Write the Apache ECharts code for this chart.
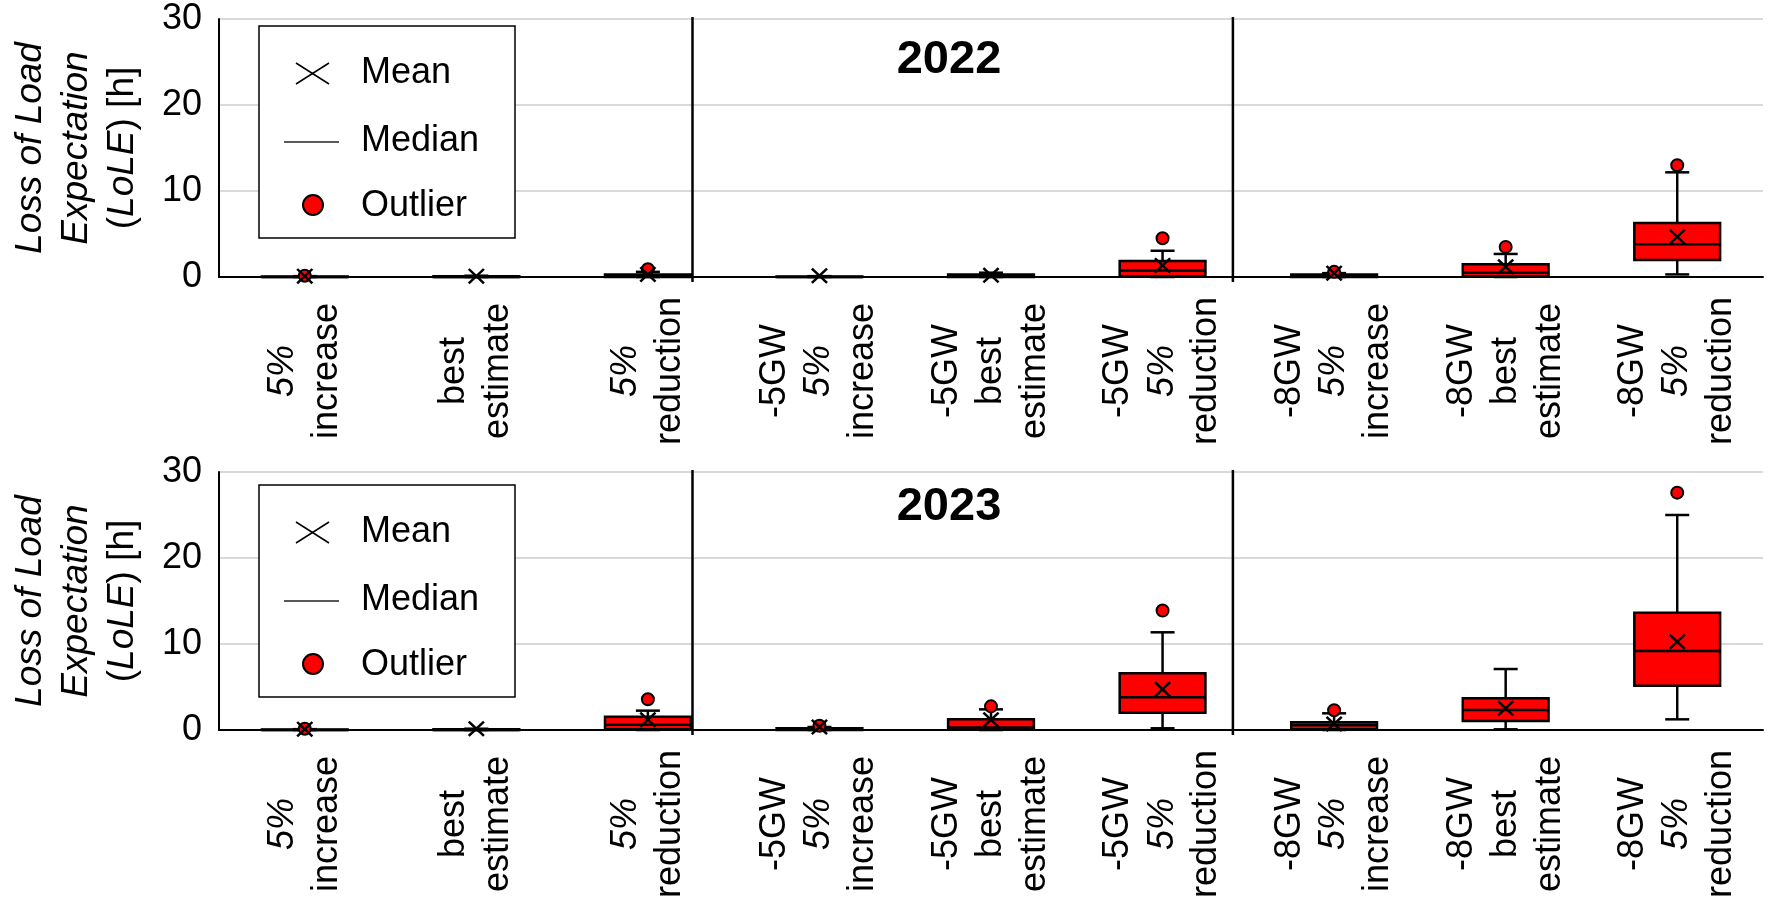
<!DOCTYPE html>
<html>
<head>
<meta charset="utf-8">
<title>Loss of Load Expectation 2022 / 2023</title>
<script src="https://cdn.jsdelivr.net/npm/echarts@6/dist/echarts.min.js"></script>
<style>
  html, body { margin: 0; padding: 0; background: #ffffff; }
  #chart { width: 1771px; height: 907px; }
</style>
</head>
<body>
<div id="chart"></div>
<script>
// Scenario names (each word goes on its own label line)
const categories = [
  '5% increase', 'best estimate', '5% reduction',
  '-5GW 5% increase', '-5GW best estimate', '-5GW 5% reduction',
  '-8GW 5% increase', '-8GW best estimate', '-8GW 5% reduction'
];
const yTicks = [0, 10, 20, 30];
const years = ['2022', '2023'];

// Box statistics per scenario: [min, Q1, median, Q3, max] in hours
const box2022 = [
  [0, 0, 0, 0.05, 0.1],
  [0, 0, 0, 0.1, 0.15],
  [0, 0, 0.1, 0.3, 0.6],
  [0, 0, 0, 0.05, 0.1],
  [0, 0, 0.1, 0.3, 0.5],
  [0, 0.1, 0.75, 1.85, 3.05],
  [0, 0, 0.1, 0.3, 0.45],
  [0, 0.1, 0.5, 1.48, 2.68],
  [0.3, 1.98, 3.81, 6.27, 12.17]
];
const mean2022 = [0.1, 0.1, 0.3, 0.15, 0.2, 1.35, 0.45, 1.2, 4.67];
const outlier2022 = [0.15, null, 0.9, null, null, 4.5, 0.6, 3.5, 13.0];

const box2023 = [
  [0, 0, 0, 0.05, 0.1],
  [0, 0, 0, 0.1, 0.15],
  [0, 0.1, 0.6, 1.55, 2.25],
  [0, 0, 0.05, 0.2, 0.35],
  [0, 0.05, 0.3, 1.24, 2.4],
  [0.2, 2.01, 3.8, 6.59, 11.36],
  [0, 0.1, 0.55, 0.89, 1.94],
  [0.08, 1.05, 2.33, 3.68, 7.09],
  [1.24, 5.15, 9.19, 13.64, 25.0]
];
const mean2023 = [0.1, 0.15, 1.2, 0.35, 1.2, 4.73, 0.7, 2.52, 10.27];
const outlier2023 = [0.15, null, 3.57, 0.5, 2.75, 13.9, 2.29, null, 27.6];

// Separator lines between scenario groups, in category-band units
const separators = [2.76, 5.91];

const FONT = "'Liberation Sans', Arial, Helvetica, sans-serif";
const RED = '#ff0000';

const chart = echarts.init(document.getElementById('chart'), null, { renderer: 'canvas' });

const grids = [
  { left: 218, right: 8, top: 19, height: 258 },
  { left: 218, right: 8, top: 472, height: 258 }
];

function labelFormatter(value) {
  return value.split(' ').map(function (w) {
    return /%$/.test(w) ? '{i|' + w + '}' : '{n|' + w + '}';
  }).join('\n');
}

const labelRich = {
  n: { fontFamily: FONT, fontSize: 36, lineHeight: 44, color: '#000', align: 'center' },
  i: { fontFamily: FONT, fontSize: 36, lineHeight: 44, color: '#000', fontStyle: 'italic', align: 'center' }
};

const xAxes = [];
const yAxes = [];
[0, 1].forEach(function (g) {
  xAxes.push({
    type: 'category', gridIndex: g, data: categories, boundaryGap: true,
    axisLine: { show: true, lineStyle: { color: '#000', width: 2 } },
    axisTick: { show: false },
    splitLine: { show: false },
    axisLabel: {
      interval: 0, rotate: 90, margin: 94,
      align: 'center', verticalAlign: 'middle',
      formatter: labelFormatter, rich: labelRich
    }
  });
});
[0, 1].forEach(function (g) {
  xAxes.push({ type: 'value', gridIndex: g, min: 0, max: 9, show: false });
});
[0, 1].forEach(function (g) {
  yAxes.push({
    type: 'value', gridIndex: g, min: yTicks[0], max: yTicks[yTicks.length - 1], interval: 10,
    axisLine: { show: true, lineStyle: { color: '#000', width: 2 } },
    axisTick: { show: false },
    splitLine: { show: true, lineStyle: { color: '#d9d9d9', width: 2 } },
    axisLabel: { fontFamily: FONT, fontSize: 36, color: '#000', margin: 17 },
    name: '{i|Loss of Load}\n{i|Expectation}\n{n|(}{i|LoLE}{n|) [h]}',
    nameLocation: 'middle', nameRotate: 90, nameGap: 73,
    nameTextStyle: {
      fontFamily: FONT, fontSize: 37, lineHeight: 46, color: '#000', align: 'center',
      rich: {
        i: { fontFamily: FONT, fontSize: 37, lineHeight: 46, color: '#000', fontStyle: 'italic' },
        n: { fontFamily: FONT, fontSize: 37, lineHeight: 46, color: '#000' }
      }
    }
  });
});

function renderBox(params, api) {
  const i = api.value(0);
  const pMin = api.coord([i, api.value(1)]);
  const pQ1 = api.coord([i, api.value(2)]);
  const pMed = api.coord([i, api.value(3)]);
  const pQ3 = api.coord([i, api.value(4)]);
  const pMax = api.coord([i, api.value(5)]);
  const band = api.size([1, 0])[0];
  const hw = band * 0.25;
  const cw = band * 0.07;
  const x = pMed[0];
  const stroke = { stroke: '#000', lineWidth: 2.5 };
  return {
    type: 'group',
    children: [
      { type: 'line', shape: { x1: x, y1: pQ3[1], x2: x, y2: pMax[1] }, style: stroke },
      { type: 'line', shape: { x1: x, y1: pQ1[1], x2: x, y2: pMin[1] }, style: stroke },
      { type: 'line', shape: { x1: x - cw, y1: pMax[1], x2: x + cw, y2: pMax[1] }, style: stroke },
      { type: 'line', shape: { x1: x - cw, y1: pMin[1], x2: x + cw, y2: pMin[1] }, style: stroke },
      { type: 'rect', shape: { x: x - hw, y: pQ3[1], width: hw * 2, height: Math.max(pQ1[1] - pQ3[1], 0.5) },
        style: { fill: RED, stroke: '#000', lineWidth: 2.5 } },
      { type: 'line', shape: { x1: x - hw, y1: pMed[1], x2: x + hw, y2: pMed[1] }, style: stroke }
    ]
  };
}

function renderSeparator(params, api) {
  const v = api.value(0);
  const top = api.coord([v, 30]);
  const bot = api.coord([v, 0]);
  return {
    type: 'line',
    shape: { x1: top[0], y1: top[1] - 2, x2: bot[0], y2: bot[1] + 5 },
    style: { stroke: '#000', lineWidth: 2.5 }
  };
}

const X_SYMBOL = 'path://M0,1.7L1.7,0L8,6.3L14.3,0L16,1.7L9.7,8L16,14.3L14.3,16L8,9.7L1.7,16L0,14.3L6.3,8Z';

const series = [];
[[box2022, mean2022, outlier2022], [box2023, mean2023, outlier2023]].forEach(function (set, g) {
  const boxes = set[0], means = set[1], outs = set[2];
  series.push({
    type: 'custom', name: 'Box ' + years[g], xAxisIndex: g, yAxisIndex: g,
    renderItem: renderBox,
    encode: { x: 0, y: [1, 2, 3, 4, 5] },
    data: boxes.map(function (b, i) { return [i].concat(b); }),
    z: 2
  });
  series.push({
    type: 'scatter', name: 'Outlier', xAxisIndex: g, yAxisIndex: g,
    symbol: 'circle', symbolSize: 12,
    itemStyle: { color: RED, borderColor: '#000', borderWidth: 2, opacity: 1 },
    data: outs.map(function (v, i) { return v === null ? null : [i, v]; }).filter(Boolean),
    z: 3
  });
  series.push({
    type: 'scatter', name: 'Mean', xAxisIndex: g, yAxisIndex: g,
    symbol: X_SYMBOL, symbolSize: [17, 16],
    itemStyle: { color: '#000', opacity: 1 },
    data: means.map(function (v, i) { return [i, v]; }),
    z: 4
  });
  series.push({
    type: 'custom', name: 'Separator ' + years[g], xAxisIndex: 2 + g, yAxisIndex: g,
    renderItem: renderSeparator,
    encode: { x: 0 },
    data: separators.map(function (s) { return [s]; }),
    z: 5, silent: true
  });
});

function legendBlock(top) {
  const txt = function (t, y) {
    return { type: 'text', x: 361, y: top + y, z: 101,
      style: { text: t, fontFamily: FONT, fontSize: 36, fill: '#000', verticalAlign: 'middle', align: 'left' } };
  };
  return [
    { type: 'rect', z: 100, shape: { x: 259, y: top, width: 256, height: 212 },
      style: { fill: '#fff', stroke: '#000', lineWidth: 1.5 } },
    { type: 'line', z: 101, shape: { x1: 296, y1: top + 37, x2: 329, y2: top + 58 }, style: { stroke: '#000', lineWidth: 1.5 } },
    { type: 'line', z: 101, shape: { x1: 296, y1: top + 58, x2: 329, y2: top + 37 }, style: { stroke: '#000', lineWidth: 1.5 } },
    { type: 'line', z: 101, shape: { x1: 284, y1: top + 116, x2: 339, y2: top + 116 }, style: { stroke: '#222', lineWidth: 1.5 } },
    { type: 'circle', z: 101, shape: { cx: 313, cy: top + 179, r: 10 }, style: { fill: RED, stroke: '#000', lineWidth: 2 } },
    txt('Mean', 47), txt('Median', 115), txt('Outlier', 180)
  ];
}

chart.setOption({
  backgroundColor: '#ffffff',
  animation: false,
  title: years.map(function (y, g) {
    return {
      text: y, left: 944, top: g === 0 ? 32 : 479, textAlign: 'center',
      textStyle: { fontFamily: FONT, fontSize: 47, fontWeight: 'bold', color: '#000' }
    };
  }),
  grid: grids,
  xAxis: xAxes,
  yAxis: yAxes,
  series: series,
  graphic: legendBlock(26).concat(legendBlock(485))
});
</script>
</body>
</html>
